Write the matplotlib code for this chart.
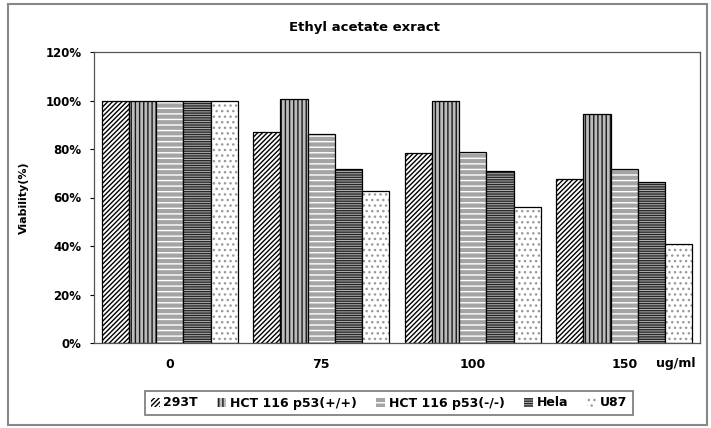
import matplotlib
matplotlib.use("Agg")
import matplotlib.pyplot as plt
import numpy as np
from matplotlib.patches import Rectangle, Patch

plt.rcParams['font.family'] = ['DejaVu Sans']
plt.rcParams['hatch.linewidth'] = 1.0

categories = ["0", "75", "100", "150"]
series_names = ["293T", "HCT 116 p53(+/+)", "HCT 116 p53(-/-)", "Hela", "U87"]
v_293T = [100, 87, 78.5, 67.5]
v_hct_wt = [100, 100.6, 99.8, 94.4]
v_hct_ko = [100, 86, 78.6, 71.8]
v_hela = [100, 71.6, 70.9, 66.4]
v_u87 = [100, 62.8, 56.2, 40.8]
yticks = [0, 20, 40, 60, 80, 100, 120]

series = [v_293T, v_hct_wt, v_hct_ko, v_hela, v_u87]
hatches = ['///////', '||||', '---', '-------', '...']
faces = ['white', '#bcbcbc', '#a4a4a4', '#b4b4b4', 'white']
hcols = ['black', '#1a1a1a', 'white', '#262626', '#9a9a9a']

fig = plt.figure(figsize=(7.11, 4.28), dpi=100)
ax = fig.add_axes([94/711, 1 - 343/428, (700-94)/711, (343-52)/428])

x = np.arange(len(categories))
w = 0.18
handles = []
for i, (vals, h, fc, hc) in enumerate(zip(series, hatches, faces, hcols)):
    ax.bar(x + (i - 2) * w, vals, w, facecolor=fc, edgecolor=hc,
           hatch=h, linewidth=0)
    ax.bar(x + (i - 2) * w, vals, w, fill=False, edgecolor='black',
           linewidth=0.9)
    handles.append((fc, h, hc))

ax.set_xlim(-0.5, 3.5)
ax.set_ylim(0, 120)
ax.set_yticks(yticks)
ax.set_yticklabels([f"{t}%" for t in yticks], fontsize=8.5, fontweight='bold')
ax.set_xticks(x)
ax.set_xticklabels(categories, fontsize=9, fontweight='bold')
ax.tick_params(axis='x', length=0, pad=11)
ax.tick_params(axis='y', length=3, direction='out', pad=6)
for s in ax.spines.values():
    s.set_color('#555555')
    s.set_linewidth(0.9)
ax.set_ylabel("Viability(%)", fontsize=8, fontweight='bold', labelpad=12)

fig.text(676/711, 1 - 363/428, "ug/ml", fontsize=9, fontweight='bold',
         ha='center', va='center')
fig.text(364/711, 1 - 27/428, "Ethyl acetate exract", fontsize=9.5,
         fontweight='bold', ha='center', va='center')

leg_handles = [Patch(facecolor=fc, edgecolor=hc, hatch=h, linewidth=0)
               for fc, h, hc in handles]
leg = fig.legend(handles=leg_handles, labels=series_names,
                 loc='center', bbox_to_anchor=(389/711, 1 - 403/428),
                 ncol=5, fontsize=9, frameon=True, fancybox=False,
                 handlelength=0.7, handleheight=0.7, handletextpad=0.3,
                 columnspacing=1.55, borderpad=0.45, edgecolor='#555555')
leg.get_frame().set_linewidth(1.2)
for t in leg.get_texts():
    t.set_fontweight('bold')

fig.patches.append(Rectangle((8/711, 3/428), 699/711, 421/428, transform=fig.transFigure,
                             fill=False, edgecolor='#888888', linewidth=1.5))

fig.savefig("out.png", dpi=100)
